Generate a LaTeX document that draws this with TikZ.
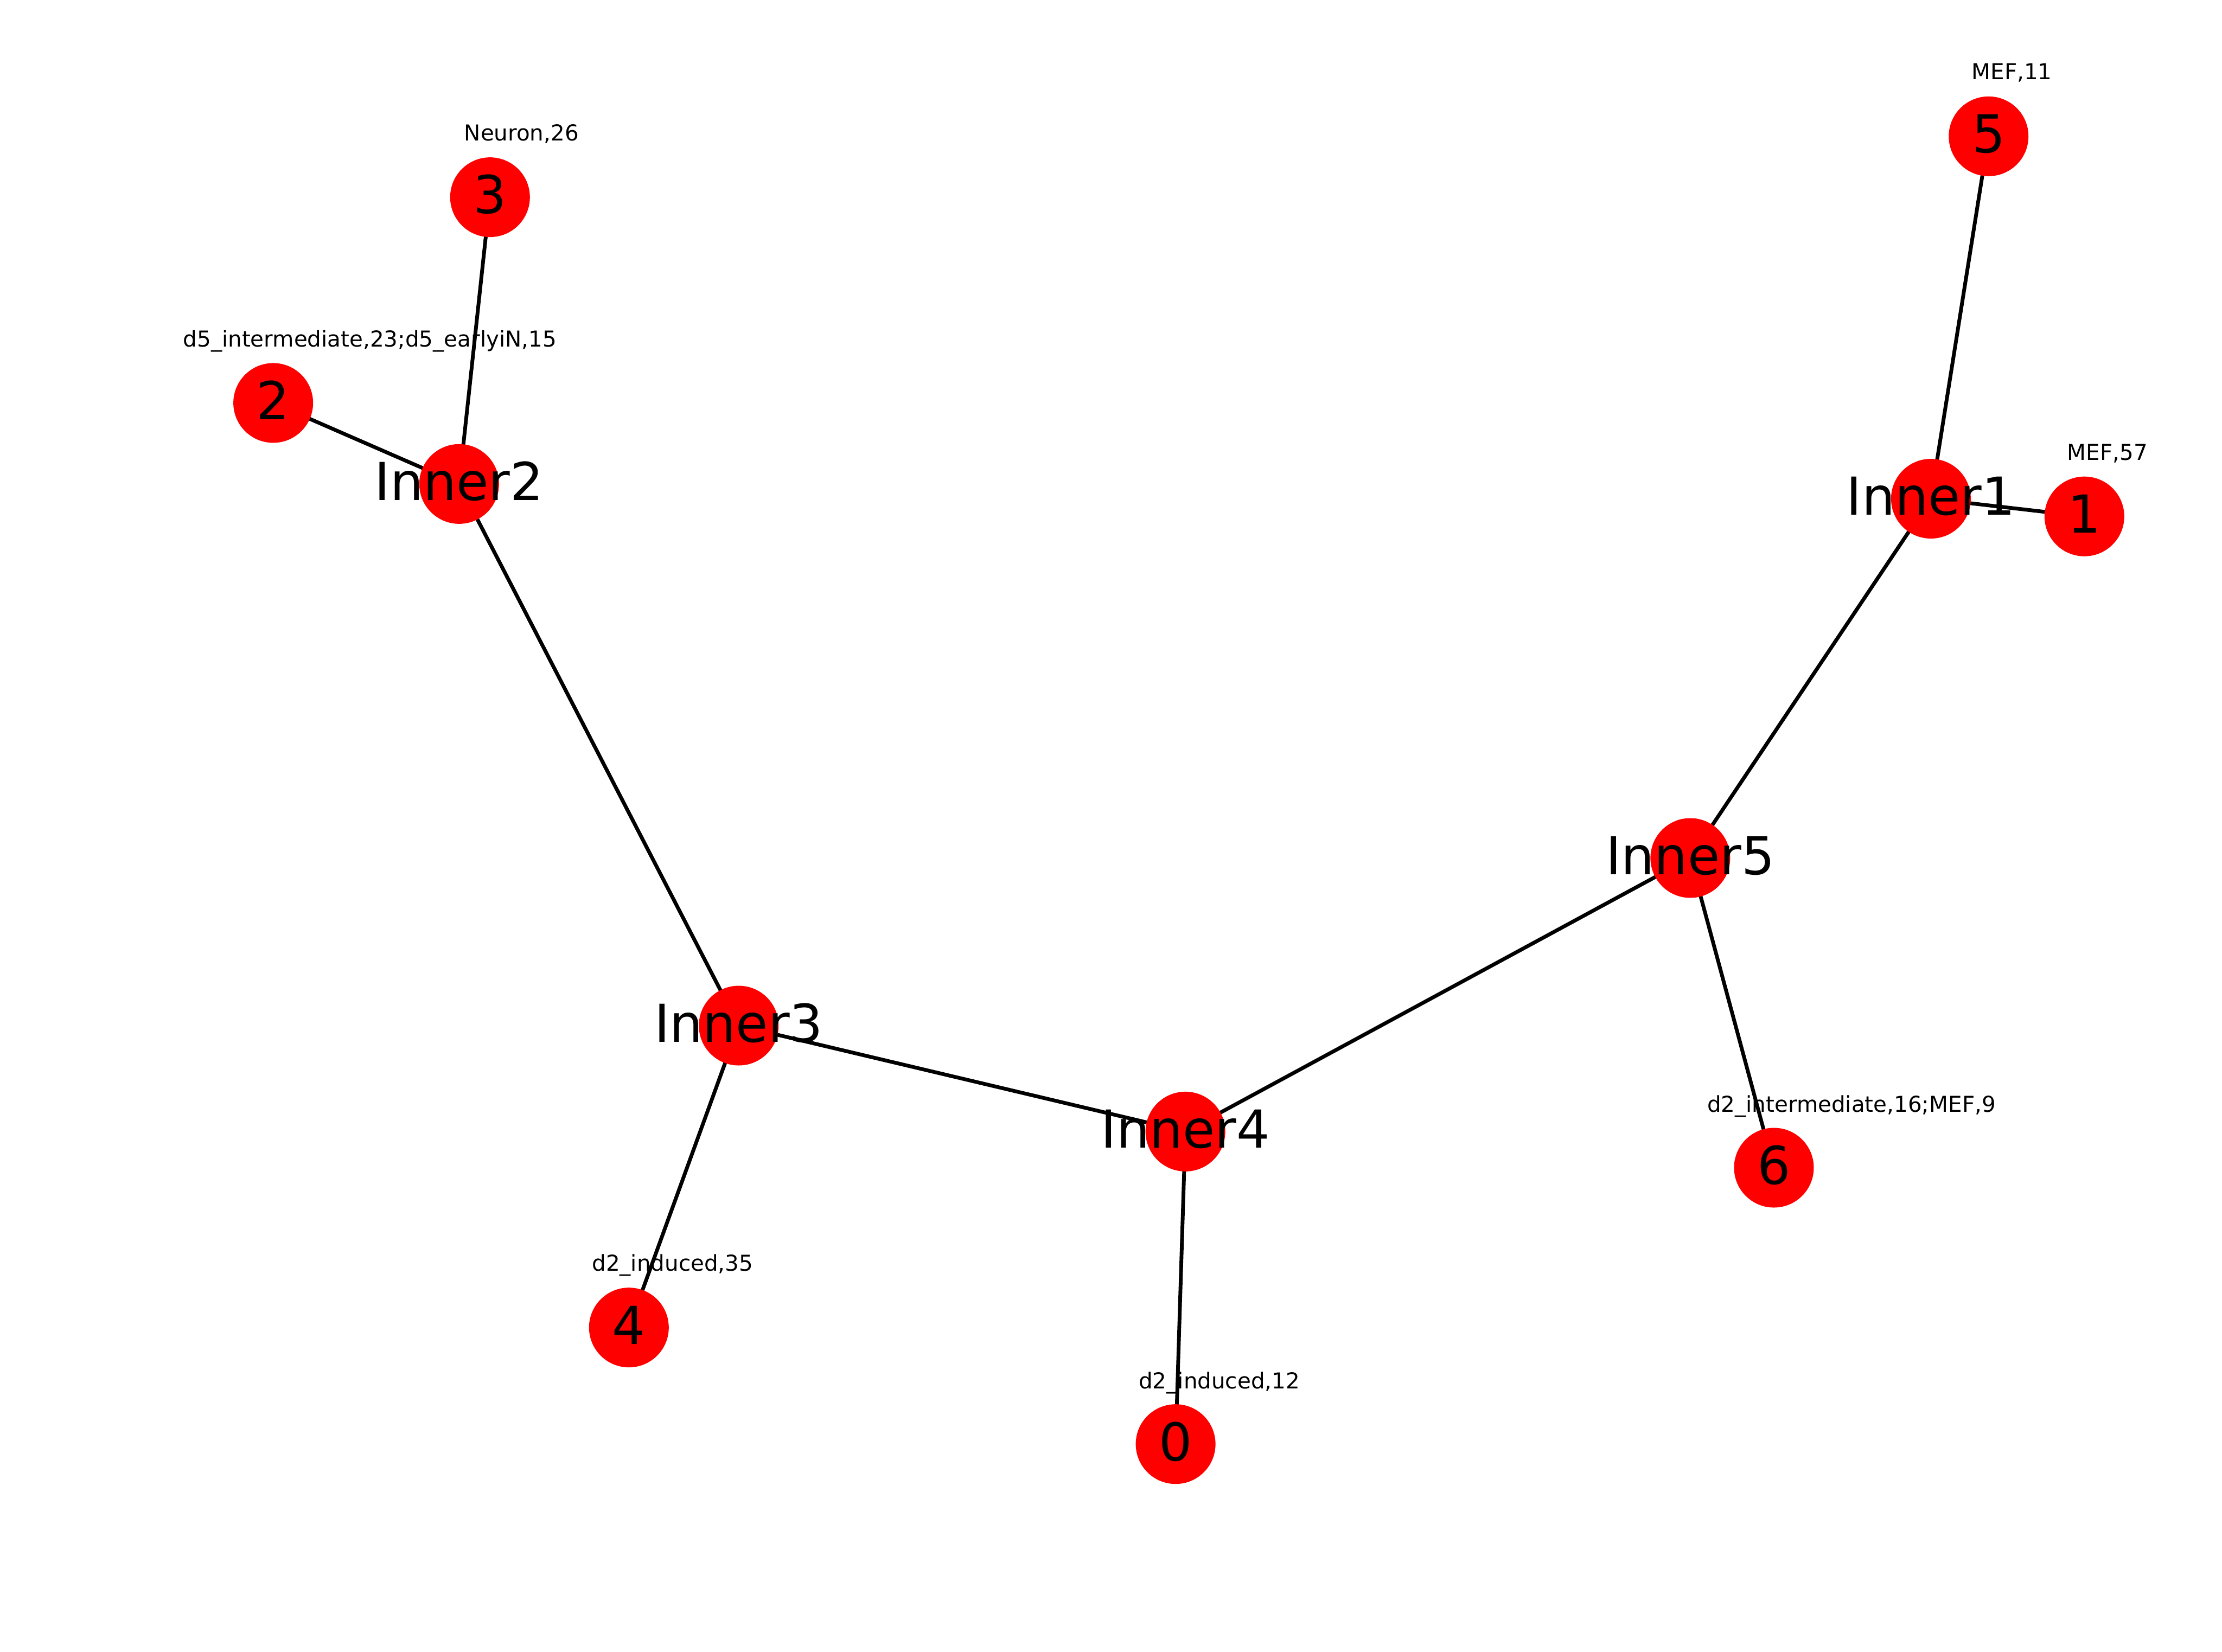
\documentclass[tikz,border=0pt]{standalone}
\usepackage{fontspec}
\setmainfont{DejaVu Sans}
\usetikzlibrary{backgrounds}
\definecolor{nodered}{RGB}{255,0,0}
\tikzset{
  dot/.style={circle, fill=nodered, draw=none, minimum size=16pt, inner sep=0pt},
  big/.style={font=\fontsize{10.5}{12}\selectfont, anchor=base, yshift=-3.3pt, inner sep=0pt},
  small/.style={font=\fontsize{4.4}{5}\selectfont, anchor=base, inner sep=0pt},
  edge/.style={line width=0.75pt, black}
}
\begin{document}
\begin{tikzpicture}[x=0.01cm, y=-0.01cm]
\useasboundingbox (0,0) rectangle (1568,1166);
% nodes
\node[dot] (n3) at (345.8,139.2) {};
\node[dot] (n2) at (192.8,284.4) {};
\node[dot] (i2) at (324,341.6) {};
\node[dot] (n5) at (1403.3,96.2) {};
\node[dot] (i1) at (1362.6,352) {};
\node[dot] (n1) at (1470.9,364.5) {};
\node[dot] (i5) at (1192.8,605.6) {};
\node[dot] (i3) at (521.3,723.9) {};
\node[dot] (i4) at (836.5,798.7) {};
\node[dot] (n4) at (443.8,937) {};
\node[dot] (n0) at (829.6,1019.3) {};
\node[dot] (n6) at (1251.8,824.2) {};
% edges
\begin{scope}[on background layer]
\draw[edge] (i2.center) -- (n3.center);
\draw[edge] (i2.center) -- (n2.center);
\draw[edge] (i2.center) -- (i3.center);
\draw[edge] (i3.center) -- (n4.center);
\draw[edge] (i3.center) -- (i4.center);
\draw[edge] (i4.center) -- (n0.center);
\draw[edge] (i4.center) -- (i5.center);
\draw[edge] (i5.center) -- (n6.center);
\draw[edge] (i5.center) -- (i1.center);
\draw[edge] (i1.center) -- (n5.center);
\draw[edge] (i1.center) -- (n1.center);
\end{scope}
% node labels
\node[big] (t3) at (n3) {3};
\node[big] (t2) at (n2) {2};
\node[big] (ti2) at (i2) {Inner2};
\node[big] (t5) at (n5) {5};
\node[big] (ti1) at (i1) {Inner1};
\node[big] (t1) at (n1) {1};
\node[big] (ti5) at (i5) {Inner5};
\node[big] (ti3) at (i3) {Inner3};
\node[big] (ti4) at (i4) {Inner4};
\node[big] (t4) at (n4) {4};
\node[big] (t0) at (n0) {0};
\node[big] (t6) at (n6) {6};
% annotations
\node[small] (a3) at (368,99.4) {Neuron,26};
\node[small] (a2) at (261,244.8) {d5\_intermediate,23;d5\_earlyiN,15};
\node[small] (a5) at (1419.7,56.2) {MEF,11};
\node[small] (a1) at (1487.2,324.9) {MEF,57};
\node[small] (a4) at (474.6,897.3) {d2\_induced,35};
\node[small] (a0) at (860.4,980.1) {d2\_induced,12};
\node[small] (a6) at (1306.5,785) {d2\_intermediate,16;MEF,9};
\end{tikzpicture}
\end{document}
